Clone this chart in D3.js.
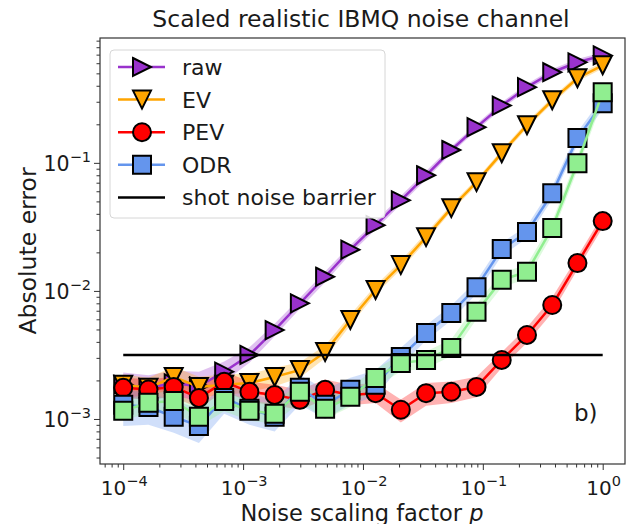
<!DOCTYPE html>
<html>
<head>
<meta charset="utf-8">
<script src="https://cdn.jsdelivr.net/npm/d3@7"></script>
<style>
  body { margin: 0; background: #fff; }
  svg { display: block; font-family: "DejaVu Sans", sans-serif; }
</style>
</head>
<body>
<svg id="chart" width="627" height="524"></svg>
<script>
// Noise scaling factors p (log-spaced sweep)
const noiseScale = [1.0e-4, 1.624e-4, 2.637e-4, 4.281e-4, 6.952e-4, 1.129e-3, 1.833e-3, 2.976e-3,
  4.833e-3, 7.848e-3, 1.274e-2, 2.069e-2, 3.360e-2, 5.456e-2, 8.859e-2, 0.1438, 0.2336, 0.3793, 0.6158, 1.0];

// Absolute error per method
const rawErr = [0.00185, 0.00175, 0.0019, 0.0018, 0.00234, 0.00316, 0.00495, 0.0080, 0.0129, 0.021,
  0.0326, 0.051, 0.080, 0.126, 0.19, 0.28, 0.39, 0.51, 0.61, 0.69];
const rawLo = [0.00148, 0.0014, 0.00152, 0.00138, 0.00195, 0.00275, 0.00442, 0.00727, 0.0117, 0.0194,
  0.0302, 0.0472, 0.0741, 0.119, 0.179, 0.264, 0.368, 0.481, 0.575, 0.651];
const rawHi = [0.00231, 0.00219, 0.00238, 0.00234, 0.00281, 0.00363, 0.00554, 0.0088, 0.0142, 0.0227,
  0.0352, 0.0551, 0.0864, 0.134, 0.201, 0.297, 0.413, 0.541, 0.647, 0.731];

const evErr = [0.00185, 0.00175, 0.00213, 0.00178, 0.00185, 0.00191, 0.00213, 0.00241, 0.00334, 0.00593,
  0.01016, 0.0159, 0.0263, 0.0443, 0.0707, 0.119, 0.197, 0.308, 0.458, 0.578];
const evLo = [0.00154, 0.00146, 0.00178, 0.00148, 0.00154, 0.00162, 0.0018, 0.0021, 0.00298, 0.00539,
  0.0094, 0.0147, 0.0244, 0.0418, 0.0667, 0.112, 0.186, 0.291, 0.432, 0.545];
const evHi = [0.00222, 0.0021, 0.00256, 0.00214, 0.00222, 0.00225, 0.00251, 0.00277, 0.00374, 0.00652,
  0.011, 0.0172, 0.0284, 0.047, 0.0749, 0.126, 0.209, 0.326, 0.485, 0.613];

const pevErr = [0.00175, 0.0017, 0.00178, 0.00146, 0.00195, 0.00163, 0.00154, 0.00141, 0.00169, 0.00154,
  0.00159, 0.00118, 0.00159, 0.00163, 0.00178, 0.00289, 0.00453, 0.00776, 0.0165, 0.0351];
const pevLo = [0.00146, 0.00142, 0.00148, 0.00122, 0.00163, 0.00136, 0.00128, 0.00118, 0.00141, 0.00128,
  0.00133, 0.00094, 0.00127, 0.00133, 0.00148, 0.00251, 0.00394, 0.00675, 0.0147, 0.0313];
const pevHi = [0.0021, 0.00204, 0.00214, 0.00175, 0.00234, 0.00196, 0.00185, 0.00169, 0.00203, 0.00185,
  0.00191, 0.00142, 0.00191, 0.00196, 0.00214, 0.00332, 0.00521, 0.00892, 0.0185, 0.0393];

const odrErr = [0.00129, 0.00124, 0.00104, 0.000883, 0.00146, 0.0012, 0.00104, 0.00175, 0.00129, 0.00169,
  0.00185, 0.00305, 0.00469, 0.00671, 0.0107, 0.0212, 0.0288, 0.0579, 0.156, 0.292];
const odrLo = [0.00088, 0.0009, 0.00078, 0.00065, 0.0011, 0.0009, 0.0008, 0.0013, 0.001, 0.0013,
  0.0015, 0.0026, 0.0041, 0.0059, 0.0095, 0.0188, 0.0258, 0.052, 0.14, 0.262];
const odrHi = [0.0017, 0.0016, 0.0014, 0.0012, 0.0019, 0.0016, 0.0014, 0.0022, 0.0017, 0.0021,
  0.0024, 0.0036, 0.0054, 0.0077, 0.012, 0.0238, 0.0322, 0.065, 0.174, 0.325];

const odrAltErr = [0.00116, 0.00134, 0.00138, 0.00104, 0.00138, 0.00116, 0.0011, 0.00163, 0.0012, 0.00149,
  0.00209, 0.00274, 0.00289, 0.00359, 0.00686, 0.0122, 0.0141, 0.031, 0.0995, 0.356];
const odrAltLo = [0.00097, 0.00112, 0.00115, 0.00087, 0.00115, 0.00097, 0.00092, 0.00136, 0.001, 0.00124,
  0.00178, 0.00235, 0.00248, 0.0031, 0.006, 0.0107, 0.0124, 0.0275, 0.088, 0.31];
const odrAltHi = [0.00139, 0.00161, 0.00166, 0.00125, 0.00166, 0.00139, 0.00132, 0.00196, 0.00144, 0.00179,
  0.00245, 0.0032, 0.00336, 0.0042, 0.0079, 0.0139, 0.016, 0.035, 0.112, 0.41];

const shotNoise = 0.00316;
const shotRange = [1e-4, 1.0];

const xTicks = [1e-4, 1e-3, 1e-2, 1e-1, 1e0];
const xTickExp = ["\u22124", "\u22123", "\u22122", "\u22121", "0"];
const yTicks = [1e-3, 1e-2, 1e-1];
const yTickExp = ["\u22123", "\u22122", "\u22121"];

const series = [
  { name: "raw", values: rawErr, lo: rawLo, hi: rawHi, color: "#9932CC", marker: "right", legend: true },
  { name: "EV", values: evErr, lo: evLo, hi: evHi, color: "#FFA500", marker: "down", legend: true },
  { name: "PEV", values: pevErr, lo: pevLo, hi: pevHi, color: "#FF0000", marker: "circle", legend: true },
  { name: "ODR", values: odrErr, lo: odrLo, hi: odrHi, color: "#6495ED", marker: "square", legend: true },
  { name: "ODR alt", values: odrAltErr, lo: odrAltLo, hi: odrAltHi, color: "#90EE90", marker: "square", legend: false }
];

const plot = { left: 100, right: 625, top: 38, bottom: 464 };
const textColor = "#1a1a1a";

const svg = d3.select("#chart");

const x = d3.scaleLog().domain([6.4e-5, 1.535]).range([plot.left, plot.right]);
const y = d3.scaleLog().domain([4.45e-4, 0.944]).range([plot.bottom, plot.top]);

svg.append("defs").append("clipPath").attr("id", "plotClip")
  .append("rect")
  .attr("x", plot.left).attr("y", plot.top)
  .attr("width", plot.right - plot.left).attr("height", plot.bottom - plot.top);

const body = svg.append("g").attr("clip-path", "url(#plotClip)");

// Spread bands behind all curves
series.forEach(s => {
  const area = d3.area()
    .x((d, i) => x(noiseScale[i]))
    .y0((d, i) => y(s.lo[i]))
    .y1((d, i) => y(s.hi[i]));
  body.append("path")
    .attr("d", area(s.values))
    .attr("fill", s.color)
    .attr("fill-opacity", 0.3)
    .attr("stroke", "none");
});

const MS = 18;
function markerPath(type, s) {
  const h = s / 2;
  if (type === "right") return `M${-h},${-h}L${h},0L${-h},${h}Z`;
  if (type === "down") return `M${-h},${-h}L${h},${-h}L0,${h}Z`;
  if (type === "square") return `M${-h},${-h}H${h}V${h}H${-h}Z`;
  return d3.symbol(d3.symbolCircle, Math.PI * h * h)();
}

// Lines and markers, one method at a time
series.forEach(s => {
  const line = d3.line()
    .x((d, i) => x(noiseScale[i]))
    .y(d => y(d));
  body.append("path")
    .attr("d", line(s.values))
    .attr("fill", "none")
    .attr("stroke", s.color)
    .attr("stroke-width", 2.5)
    .attr("stroke-linejoin", "round");
  body.append("g").selectAll("path")
    .data(s.values)
    .join("path")
    .attr("transform", (d, i) => `translate(${x(noiseScale[i])},${y(d)})`)
    .attr("d", markerPath(s.marker, MS))
    .attr("fill", s.color)
    .attr("stroke", "#000")
    .attr("stroke-width", 2)
    .attr("stroke-linejoin", "miter");
});

// Shot noise barrier
body.append("line")
  .attr("x1", x(shotRange[0])).attr("x2", x(shotRange[1]))
  .attr("y1", y(shotNoise)).attr("y2", y(shotNoise))
  .attr("stroke", "#000").attr("stroke-width", 2.5);

// Axes
function minorTicks(scale) {
  const [a, b] = scale.domain();
  const out = [];
  for (let e = Math.floor(Math.log10(a)); e <= Math.ceil(Math.log10(b)); e++) {
    for (let m = 2; m <= 9; m++) {
      const v = m * Math.pow(10, e);
      if (v >= a && v <= b) out.push(v);
    }
  }
  return out;
}

const axisColor = "#333";
svg.append("g").attr("transform", `translate(0,${plot.bottom})`)
  .call(d3.axisBottom(x).tickValues(minorTicks(x)).tickFormat("").tickSize(3.5).tickSizeOuter(0));
svg.append("g").attr("transform", `translate(0,${plot.bottom})`)
  .call(d3.axisBottom(x).tickValues(xTicks).tickFormat("").tickSize(6).tickSizeOuter(0));
svg.append("g").attr("transform", `translate(${plot.left},0)`)
  .call(d3.axisLeft(y).tickValues(minorTicks(y)).tickFormat("").tickSize(3.5).tickSizeOuter(0));
svg.append("g").attr("transform", `translate(${plot.left},0)`)
  .call(d3.axisLeft(y).tickValues(yTicks).tickFormat("").tickSize(6).tickSizeOuter(0));

svg.selectAll(".domain").remove();
svg.selectAll(".tick line").attr("stroke", axisColor).attr("stroke-width", 1);

// Frame
svg.append("rect")
  .attr("x", plot.left).attr("y", plot.top)
  .attr("width", plot.right - plot.left).attr("height", plot.bottom - plot.top)
  .attr("fill", "none").attr("stroke", axisColor).attr("stroke-width", 1.2);

// Tick labels as powers of ten
function powerLabel(sel, exp) {
  sel.append("tspan").text("10");
  sel.append("tspan").attr("dy", -9).attr("font-size", 14.5).text(exp);
}
xTicks.forEach((v, i) => {
  const t = svg.append("text")
    .attr("x", x(v) + 1).attr("y", 494.5)
    .attr("text-anchor", "middle")
    .attr("font-size", 20).attr("fill", textColor);
  powerLabel(t, xTickExp[i]);
});
yTicks.forEach((v, i) => {
  const t = svg.append("text")
    .attr("x", plot.left - 9).attr("y", y(v) + 8)
    .attr("text-anchor", "end")
    .attr("font-size", 20.5).attr("fill", textColor);
  powerLabel(t, yTickExp[i]);
});

// Titles
svg.append("text")
  .attr("x", 361).attr("y", 27)
  .attr("text-anchor", "middle").attr("font-size", 23.5).attr("fill", textColor)
  .text("Scaled realistic IBMQ noise channel");

const xl = svg.append("text")
  .attr("x", 362).attr("y", 520.5)
  .attr("text-anchor", "middle").attr("font-size", 22.5).attr("fill", textColor);
xl.append("tspan").text("Noise scaling factor ");
xl.append("tspan").attr("font-style", "italic").text("p");

svg.append("text")
  .attr("transform", `translate(36,${(plot.top + plot.bottom) / 2}) rotate(-90)`)
  .attr("text-anchor", "middle").attr("font-size", 23.5).attr("fill", textColor)
  .text("Absolute error");

svg.append("text")
  .attr("x", 574).attr("y", 421)
  .attr("font-size", 23).attr("fill", textColor)
  .text("b)");

// Legend
const legendItems = series.filter(s => s.legend);
const lg = svg.append("g");
lg.append("rect")
  .attr("x", 110).attr("y", 50).attr("width", 275).attr("height", 168).attr("rx", 4)
  .attr("fill", "#fff").attr("fill-opacity", 0.85)
  .attr("stroke", "#d6d6d6").attr("stroke-width", 1);
const rowY = i => 67 + i * 32.6;
legendItems.forEach((s, i) => {
  const g = lg.append("g").attr("transform", `translate(0,${rowY(i)})`);
  g.append("line").attr("x1", 118).attr("x2", 165).attr("y1", 0).attr("y2", 0)
    .attr("stroke", s.color).attr("stroke-width", 2.5);
  g.append("path").attr("transform", "translate(142,0)")
    .attr("d", markerPath(s.marker, MS))
    .attr("fill", s.color).attr("stroke", "#000").attr("stroke-width", 2);
  g.append("text").attr("x", 182).attr("y", 8).attr("font-size", 22).attr("fill", textColor).text(s.name);
});
{
  const g = lg.append("g").attr("transform", `translate(0,${rowY(4)})`);
  g.append("line").attr("x1", 118).attr("x2", 165).attr("y1", 0).attr("y2", 0)
    .attr("stroke", "#000").attr("stroke-width", 2.5);
  g.append("text").attr("x", 182).attr("y", 8).attr("font-size", 22).attr("fill", textColor).text("shot noise barrier");
}
</script>
</body>
</html>
